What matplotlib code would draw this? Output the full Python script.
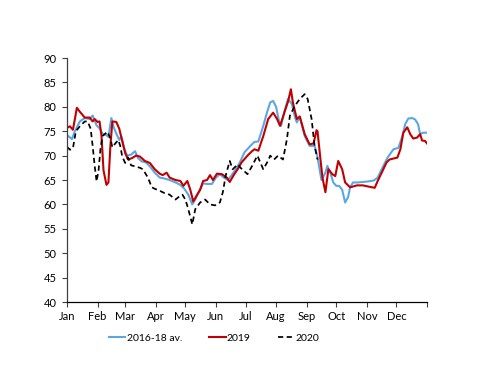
import matplotlib
matplotlib.use("Agg")
import matplotlib.pyplot as plt

# Day-of-year positions and values
avg_days = [0, 5, 8, 13, 18, 23, 26, 30, 33, 36, 40, 42, 45, 47, 50, 53, 55, 58, 61, 65, 69, 72,
            76, 80, 84, 89, 94, 99, 104, 110, 115, 119, 123, 127, 130, 133, 138, 142, 147, 151,
            155, 159, 163, 167, 171, 175, 180, 186, 190, 194, 199, 203, 206, 209, 212, 215, 217,
            221, 224, 228, 231, 233, 236, 241, 246, 251, 254, 258, 262, 264, 267, 270, 273, 276,
            279, 282, 285, 287, 290, 295, 300, 305, 311, 315, 320, 325, 331, 336, 340, 343, 346,
            350, 353, 356, 358, 361, 365]
avg_vals = [74.2, 73.4, 75.0, 77.0, 77.7, 77.5, 78.2, 76.2, 75.6, 74.5, 74.2, 73.8, 77.7, 76.0,
            74.5, 73.2, 74.0, 71.5, 70.0, 70.2, 70.9, 69.5, 68.8, 68.6, 67.8, 66.5, 65.5, 65.3,
            65.0, 64.5, 64.0, 63.2, 62.0, 60.0, 61.0, 62.3, 64.3, 64.2, 64.2, 65.5, 66.2, 65.5,
            65.0, 66.0, 67.2, 68.5, 70.7, 72.0, 72.8, 72.9, 76.1, 79.0, 80.9, 81.2, 80.0, 77.0,
            76.1, 79.5, 81.6, 80.6, 78.0, 76.8, 78.0, 74.0, 72.0, 72.0, 69.7, 65.0, 66.5, 67.9,
            66.5, 64.5, 63.8, 63.8, 63.0, 60.4, 61.5, 63.5, 64.5, 64.5, 64.6, 64.7, 64.9, 65.5,
            67.6, 69.6, 71.3, 71.6, 74.0, 76.5, 77.6, 77.7, 77.4, 76.4, 74.4, 74.7, 74.7]

y2019_days = [0, 3, 6, 8, 10, 13, 18, 23, 26, 28, 31, 33, 35, 37, 40, 42, 44, 46, 50, 53, 56, 59,
              62, 66, 70, 74, 79, 84, 89, 94, 97, 101, 104, 110, 115, 118, 122, 125, 128, 132,
              135, 138, 142, 145, 148, 152, 157, 162, 165, 169, 173, 177, 183, 187, 190, 194,
              199, 204, 209, 213, 216, 221, 224, 227, 229, 233, 236, 241, 246, 250, 253, 254,
              257, 259, 262, 265, 269, 272, 275, 279, 282, 287, 294, 300, 307, 312, 315, 320,
              324, 327, 335, 338, 341, 345, 348, 351, 355, 358, 360, 363, 365]
y2019_vals = [75.7, 76.0, 75.3, 77.5, 79.8, 79.0, 77.8, 77.8, 77.0, 77.5, 76.9, 77.0, 74.0, 67.0,
              64.0, 64.5, 72.0, 77.0, 76.9, 75.5, 73.0, 70.5, 69.2, 69.5, 70.0, 69.8, 68.9, 68.5,
              67.2, 66.3, 66.0, 66.5, 65.5, 65.0, 64.8, 63.8, 64.8, 63.0, 60.6, 62.0, 63.0, 64.8,
              65.0, 66.0, 65.0, 66.3, 66.2, 65.5, 64.6, 66.0, 67.2, 68.6, 70.0, 70.8, 71.3, 71.0,
              74.0, 77.5, 78.8, 77.5, 76.1, 79.2, 81.0, 83.6, 80.9, 77.5, 78.0, 74.4, 72.3, 72.5,
              75.2, 75.0, 69.2, 65.5, 62.5, 67.2, 66.2, 65.8, 68.9, 67.2, 64.5, 63.5, 63.9, 63.9,
              63.6, 63.4, 64.8, 66.9, 68.6, 69.2, 69.6, 71.3, 74.7, 75.8, 74.4, 73.5, 73.7, 74.4,
              73.1, 73.0, 72.5]

y2020_days = [0, 3, 6, 9, 13, 18, 21, 24, 26, 28, 30, 32, 34, 36, 41, 44, 46, 49, 52, 54, 56, 59,
              62, 65, 69, 74, 77, 82, 86, 89, 94, 99, 104, 110, 115, 117, 120, 122, 125, 127, 130,
              135, 140, 145, 150, 155, 158, 161, 165, 168, 173, 176, 183, 188, 193, 199, 204, 206,
              210, 214, 219, 223, 226, 231, 236, 241, 244, 248, 251, 254]
y2020_vals = [71.8, 71.2, 71.5, 75.0, 76.0, 77.0, 77.0, 75.5, 72.0, 68.0, 64.7, 67.0, 71.5, 74.0,
              74.9, 73.5, 71.7, 72.5, 73.2, 72.0, 69.8, 68.5, 69.6, 68.0, 67.8, 67.5, 67.2, 65.5,
              63.5, 63.2, 62.8, 62.3, 62.0, 61.0, 61.8, 62.0, 61.0, 59.7, 57.5, 55.9, 59.0, 60.4,
              61.0, 60.0, 59.8, 60.4, 62.5, 66.0, 68.9, 67.2, 68.2, 67.5, 66.2, 68.0, 70.0, 67.2,
              69.0, 70.0, 69.2, 70.0, 69.2, 73.4, 78.2, 80.2, 81.6, 82.6, 81.6, 77.5, 72.0, 69.2]

month_starts = [0, 31, 59, 90, 120, 151, 181, 212, 243, 273, 304, 334, 365]
month_labels = ["Jan", "Feb", "Mar", "Apr", "May", "Jun", "Jul", "Aug", "Sep", "Oct", "Nov", "Dec", ""]
series_names = ["2016-18 av.", "2019", "2020"]

plt.rcParams['font.family'] = ['Lato', 'DejaVu Sans']
fig = plt.figure(figsize=(5.0, 3.86), dpi=100)
ax = fig.add_axes([0.134, 0.2176, 0.72, 0.6321])

ax.plot(avg_days, avg_vals, color="#5BA7E3", lw=1.5, label=series_names[0])
ax.plot(y2019_days, y2019_vals, color="#C00000", lw=1.5, label=series_names[1])
ax.plot(y2020_days, y2020_vals, color="black", lw=1.25, ls=(0, (3, 2)), label=series_names[2])

ax.set_xlim(0, 365)
ax.set_ylim(40, 90)
ax.set_yticks(range(40, 91, 5))
ax.set_xticks(month_starts)
ax.set_xticklabels(month_labels)
for s in ["top", "right"]:
    ax.spines[s].set_visible(False)
ax.spines["left"].set_linewidth(0.9)
ax.spines["left"].set_color("#404040")
ax.spines["bottom"].set_linewidth(0.9)
ax.spines["bottom"].set_color("black")
ax.tick_params(axis="both", labelsize=8, length=3.5, width=0.8, color="#404040", direction="out")
ax.tick_params(axis="y", pad=4)
ax.tick_params(axis="x", pad=3)

fig.legend(loc="center", bbox_to_anchor=(0.428, 0.124), ncol=3, frameon=False,
           fontsize=7.5, handlelength=1.6, handletextpad=0.1, columnspacing=2.6)

fig.savefig("out.png", dpi=100)
